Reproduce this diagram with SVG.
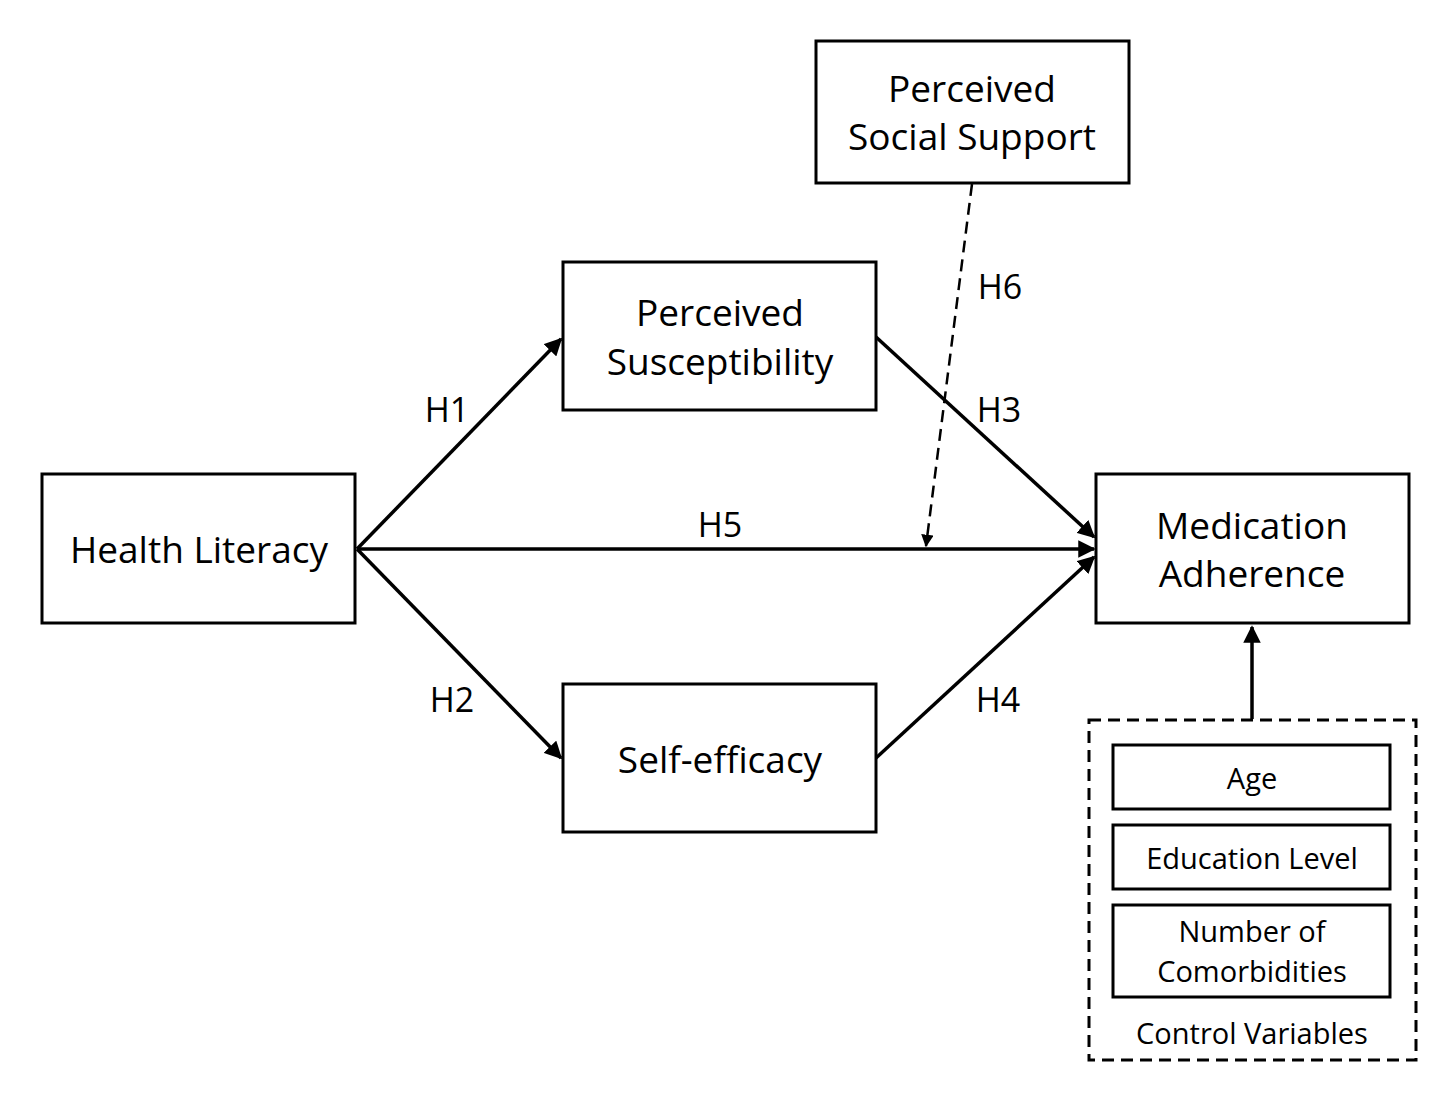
<svg xmlns="http://www.w3.org/2000/svg" width="1456" height="1100" viewBox="0 0 1456 1100">
<style>
.box{fill:#fff;stroke:#000;stroke-width:3}
.t{font-family:"Open Sans","Noto Sans",sans-serif;font-size:37px;text-anchor:middle;fill:#000}
.s{font-family:"Open Sans","Noto Sans",sans-serif;font-size:29px;text-anchor:middle;fill:#000}
.l{font-family:"Open Sans","Noto Sans",sans-serif;font-size:34px;text-anchor:middle;fill:#000}
.c{stroke:#000;stroke-width:3.5;fill:none}
</style>
<defs>
<marker id="a" viewBox="0 0 10 10" refX="9" refY="5" markerWidth="6" markerHeight="6" markerUnits="userSpaceOnUse" orient="auto">
<path d="M0,0 L10,5 L0,10 z" fill="#000"/>
</marker>
<marker id="b" viewBox="0 0 10 10" refX="9" refY="5" markerWidth="5" markerHeight="5" orient="auto">
<path d="M0,0 L10,5 L0,10 z" fill="#000"/>
</marker>
</defs>
<rect width="1456" height="1100" fill="#fff"/>
<g id="connectors">
<line class="c" x1="357" y1="549" x2="561" y2="339" marker-end="url(#b)"/>
<line class="c" x1="357" y1="549" x2="561" y2="758" marker-end="url(#b)"/>
<line class="c" x1="357" y1="549" x2="1094" y2="549" marker-end="url(#b)"/>
<line class="c" x1="876" y1="337" x2="1094" y2="537" marker-end="url(#b)"/>
<line class="c" x1="876" y1="758" x2="1094" y2="557" marker-end="url(#b)"/>
<line x1="972" y1="184" x2="926" y2="546" stroke="#000" stroke-width="2.5" stroke-dasharray="12,7" marker-end="url(#b)"/>
<line class="c" x1="1252" y1="719" x2="1252" y2="627" marker-end="url(#b)"/>
<text class="l" x="447" y="422">H1</text>
<text class="l" x="452" y="712">H2</text>
<text class="l" x="999" y="422">H3</text>
<text class="l" x="998" y="712">H4</text>
<text class="l" x="720" y="537">H5</text>
<text class="l" x="1000" y="299">H6</text>
</g>
<g id="health-literacy"><rect class="box" x="42" y="474" width="313" height="149"/><text class="t" x="199" y="563">Health Literacy</text></g>
<g id="perceived-susceptibility"><rect class="box" x="563" y="262" width="313" height="148"/><text class="t" x="720" y="326">Perceived</text><text class="t" x="720" y="375">Susceptibility</text></g>
<g id="self-efficacy"><rect class="box" x="563" y="684" width="313" height="148"/><text class="t" x="720" y="773">Self-efficacy</text></g>
<g id="medication-adherence"><rect class="box" x="1096" y="474" width="313" height="149"/><text class="t" x="1252" y="539">Medication</text><text class="t" x="1252" y="587">Adherence</text></g>
<g id="perceived-social-support"><rect class="box" x="816" y="41" width="313" height="142"/><text class="t" x="972" y="102">Perceived</text><text class="t" x="972" y="150">Social Support</text></g>
<g id="control-variables">
<rect x="1089" y="720" width="327" height="340" fill="none" stroke="#000" stroke-width="3" stroke-dasharray="12,7"/>
<rect class="box" x="1113" y="745" width="277" height="64"/><text class="s" x="1252" y="789">Age</text>
<rect class="box" x="1113" y="825" width="277" height="64"/><text class="s" x="1252" y="869">Education Level</text>
<rect class="box" x="1113" y="905" width="277" height="92"/><text class="s" x="1252" y="942">Number of</text><text class="s" x="1252" y="982">Comorbidities</text>
<text class="s" x="1252" y="1044">Control Variables</text>
</g>
</svg>
